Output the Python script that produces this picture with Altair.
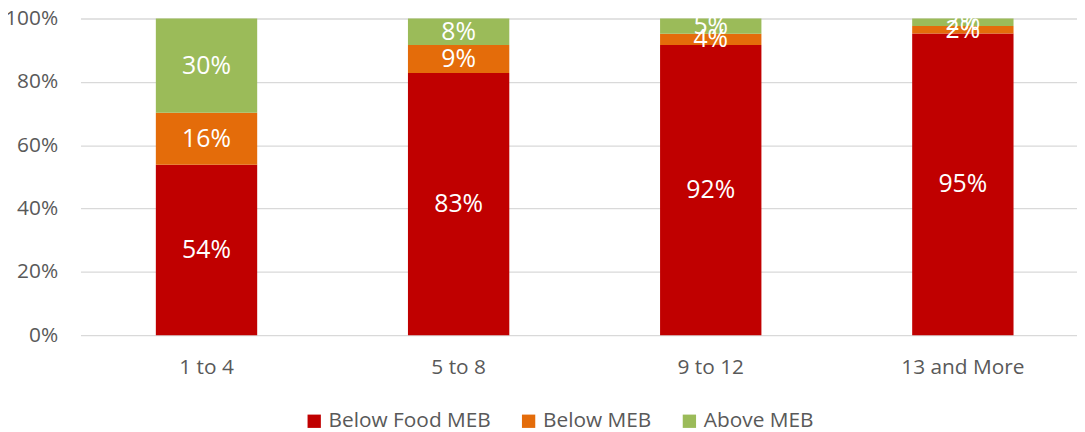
import altair as alt
import pandas as pd

categories = ["1 to 4", "5 to 8", "9 to 12", "13 and More"]
series = ["Below Food MEB", "Below MEB", "Above MEB"]
below_food_meb = [53.8, 82.8, 91.6, 95.3]
below_meb = [16.4, 8.8, 3.6, 2.3]
above_meb = [29.8, 8.4, 4.8, 2.4]
colors = ["#C00000", "#E46C0A", "#9BBB59"]

rows = []
for i, c in enumerate(categories):
    for j, (s, vals) in enumerate(zip(series, [below_food_meb, below_meb, above_meb])):
        rows.append({"cat": c, "series": s, "value": vals[i], "ord": j})
df = pd.DataFrame(rows)

FONT = "Open Sans"
xscale = alt.Scale(paddingInner=0.598, paddingOuter=0.299)

x = alt.X("cat:N", sort=categories, title=None, scale=xscale,
          axis=alt.Axis(labelAngle=0, ticks=False, domain=False, labelFontSize=21,
                        labelColor="#595959", labelPadding=22, labelFont=FONT))

base = alt.Chart(df)

bars = base.mark_bar().encode(
    x=x,
    y=alt.Y("value:Q", stack="normalize", title=None,
            scale=alt.Scale(domain=[0, 1]),
            axis=alt.Axis(format=".0%", values=[0, 0.2, 0.4, 0.6, 0.8, 1.0], domain=False, ticks=False,
                          labelFontSize=21, labelColor="#595959", labelPadding=23,
                          gridColor="#D9D9D9", gridWidth=1.3, labelFont=FONT)),
    color=alt.Color("series:N", sort=series, scale=alt.Scale(domain=series, range=colors),
                    legend=alt.Legend(title=None, orient="none", direction="horizontal",
                                      legendX=225, legendY=395, symbolType="square", symbolSize=180,
                                      symbolStrokeWidth=0, labelFontSize=21, labelColor="#595959",
                                      labelFont=FONT, columnPadding=27, labelOffset=4,
                                      labelLimit=400)),
    order=alt.Order("ord:Q"),
)

labels = base.transform_stack(
    stack="value", groupby=["cat"], as_=["y0", "y1"], offset="normalize",
    sort=[alt.SortField("ord", order="ascending")]
).transform_calculate(
    mid="(datum.y0 + datum.y1) / 2",
    lab="format(datum.value / 100, '.0%')"
).mark_text(color="white", fontSize=25, font=FONT, baseline="middle").encode(
    x=alt.X("cat:N", sort=categories, scale=xscale),
    y=alt.Y("mid:Q"),
    text="lab:N",
)

chart = alt.layer(bars, labels).properties(
    width=1016, height=319,
    autosize=alt.AutoSizeParams(type="none"),
    padding={"left": 73, "top": 9, "right": -12, "bottom": 98},
).configure_view(stroke=None)

chart.save("out.html", embed_options={"renderer": "svg", "actions": False})
